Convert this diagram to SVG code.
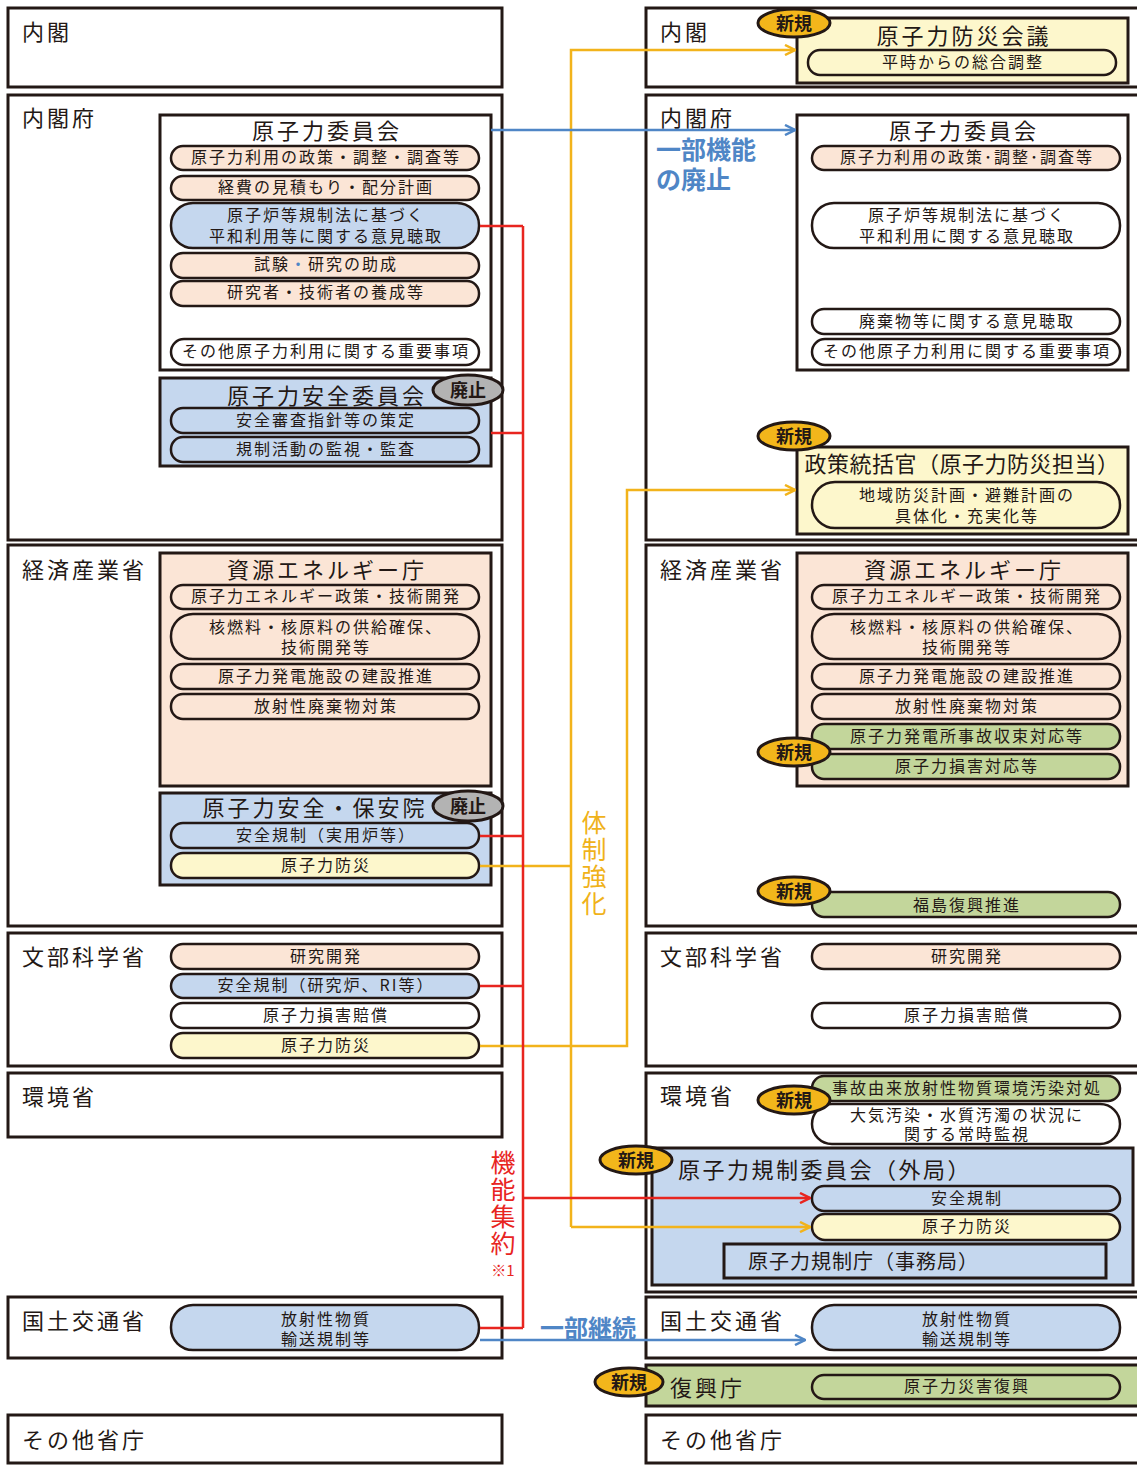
<svg xmlns="http://www.w3.org/2000/svg" width="1137" height="1465" viewBox="0 0 1137 1465">
<defs>
<style>
text{font-family:"Noto Sans CJK JP","Noto Sans CJK SC",sans-serif;fill:#231815;dominant-baseline:central;transform:translateY(-2px)}
.ob{fill:#fff;stroke:#231815;stroke-width:3}
.ib{stroke:#231815;stroke-width:3}
.p{stroke:#231815;stroke-width:2.5}
.pk{fill:#fbe5d6}.bl{fill:#c5d7ee}.yl{fill:#fdf7cc}.gr{fill:#c3d69b}.wh{fill:#fff}
.lab{font-size:22px;letter-spacing:3px}
.ttl{font-size:22px;letter-spacing:3px;text-anchor:middle}
.pt{font-size:16px;letter-spacing:2px;text-anchor:middle}
.bd ellipse{fill:#f3b61b;stroke:#231815;stroke-width:3}
.bd text{font-size:18px;font-weight:bold;text-anchor:middle}
.hs ellipse{fill:#b3b3b3;stroke:#231815;stroke-width:3}
.hs text{font-size:18px;font-weight:bold;text-anchor:middle}
.ln{fill:none;stroke-width:2.5}
.ry{stroke:#f2b31b}.rr{stroke:#e8251f}.rb{stroke:#4f86c6}
.vt{writing-mode:vertical-rl;font-size:25px;letter-spacing:2px}
</style>
<marker id="ay" viewBox="0 0 12 12" refX="11" refY="6" markerWidth="12" markerHeight="12" markerUnits="userSpaceOnUse" orient="auto"><path d="M1,1 L11,6 L1,11" fill="none" stroke="#f2b31b" stroke-width="2.5"/></marker>
<marker id="ar" viewBox="0 0 12 12" refX="11" refY="6" markerWidth="12" markerHeight="12" markerUnits="userSpaceOnUse" orient="auto"><path d="M1,1 L11,6 L1,11" fill="none" stroke="#e8251f" stroke-width="2.5"/></marker>
<marker id="ab" viewBox="0 0 12 12" refX="11" refY="6" markerWidth="12" markerHeight="12" markerUnits="userSpaceOnUse" orient="auto"><path d="M1,1 L11,6 L1,11" fill="none" stroke="#4f86c6" stroke-width="2.5"/></marker>
</defs>
<rect width="1137" height="1465" fill="#fff"/>

<!-- LEFT (before) -->
<g id="L-naikaku"><rect class="ob" x="8" y="8" width="494" height="79"/><text class="lab" x="22" y="32">内閣</text></g>

<g id="L-naikakufu">
<rect class="ob" x="8" y="95" width="494" height="445"/><text class="lab" x="22" y="118">内閣府</text>
<g id="L-genshiryoku-iinkai">
<rect class="ib wh" x="160" y="115" width="331" height="255"/>
<text class="ttl" x="327" y="131">原子力委員会</text>
<rect class="p pk" x="171" y="146" width="308" height="24" rx="12"/><text class="pt" x="326" y="158">原子力利用の政策・調整・調査等</text>
<rect class="p pk" x="171" y="176" width="308" height="24" rx="12"/><text class="pt" x="326" y="188">経費の見積もり・配分計画</text>
<rect class="p bl" x="171" y="203" width="308" height="45" rx="22"/><text class="pt"><tspan x="326" y="216">原子炉等規制法に基づく</tspan><tspan x="326" y="237">平和利用等に関する意見聴取</tspan></text>
<rect class="p pk" x="171" y="253" width="308" height="25" rx="12"/><text class="pt" x="326" y="265">試験<tspan fill="#4f86c6">・</tspan>研究の助成</text>
<rect class="p pk" x="171" y="281" width="308" height="25" rx="12"/><text class="pt" x="326" y="293">研究者・技術者の養成等</text>
<rect class="p wh" x="171" y="339" width="308" height="26" rx="13"/><text class="pt" x="326" y="352">その他原子力利用に関する重要事項</text>
</g>
<g id="L-anzen-iinkai">
<rect class="ib bl" x="160" y="378" width="331" height="88"/>
<text class="ttl" x="327" y="396">原子力安全委員会</text>
<rect class="p bl" x="171" y="408" width="308" height="25" rx="12"/><text class="pt" x="326" y="421">安全審査指針等の策定</text>
<rect class="p bl" x="171" y="437" width="308" height="25" rx="12"/><text class="pt" x="326" y="450">規制活動の監視・監査</text>
<g class="hs"><ellipse cx="468" cy="390" rx="35" ry="15"/><text x="468" y="391">廃止</text></g>
</g>
</g>

<g id="L-keisansho">
<rect class="ob" x="8" y="545" width="494" height="381"/><text class="lab" x="22" y="570">経済産業省</text>
<g id="L-shigen">
<rect class="ib pk" x="160" y="553" width="331" height="233"/>
<text class="ttl" x="327" y="570">資源エネルギー庁</text>
<rect class="p pk" x="171" y="585" width="308" height="24" rx="12"/><text class="pt" x="326" y="597">原子力エネルギー政策・技術開発</text>
<rect class="p pk" x="171" y="614" width="308" height="45" rx="22"/><text class="pt"><tspan x="326" y="628">核燃料・核原料の供給確保、</tspan><tspan x="326" y="648">技術開発等</tspan></text>
<rect class="p pk" x="171" y="664" width="308" height="25" rx="12"/><text class="pt" x="326" y="677">原子力発電施設の建設推進</text>
<rect class="p pk" x="171" y="694" width="308" height="25" rx="12"/><text class="pt" x="326" y="707">放射性廃棄物対策</text>
</g>
<g id="L-hoanin">
<rect class="ib bl" x="160" y="793" width="331" height="92"/>
<text class="ttl" x="315" y="808">原子力安全・保安院</text>
<rect class="p bl" x="171" y="823" width="308" height="25" rx="12"/><text class="pt" x="326" y="836">安全規制（実用炉等）</text>
<rect class="p yl" x="171" y="853" width="308" height="25" rx="12"/><text class="pt" x="326" y="866">原子力防災</text>
<g class="hs"><ellipse cx="468" cy="806" rx="35" ry="15"/><text x="468" y="807">廃止</text></g>
</g>
</g>

<g id="L-monkasho">
<rect class="ob" x="8" y="933" width="494" height="133"/><text class="lab" x="22" y="957">文部科学省</text>
<rect class="p pk" x="171" y="944" width="308" height="25" rx="12"/><text class="pt" x="326" y="957">研究開発</text>
<rect class="p bl" x="171" y="974" width="308" height="24" rx="12"/><text class="pt" x="326" y="986">安全規制（研究炉、RI等）</text>
<rect class="p wh" x="171" y="1003" width="308" height="25" rx="12"/><text class="pt" x="326" y="1016">原子力損害賠償</text>
<rect class="p yl" x="171" y="1033" width="308" height="25" rx="12"/><text class="pt" x="326" y="1046">原子力防災</text>
</g>

<g id="L-kankyosho"><rect class="ob" x="8" y="1073" width="494" height="64"/><text class="lab" x="22" y="1097">環境省</text></g>

<g id="L-kokudo">
<rect class="ob" x="8" y="1297" width="494" height="61"/><text class="lab" x="22" y="1321">国土交通省</text>
<rect class="p bl" x="171" y="1305" width="308" height="45" rx="22"/><text class="pt"><tspan x="326" y="1320">放射性物質</tspan><tspan x="326" y="1340">輸送規制等</tspan></text>
</g>

<g id="L-sonota"><rect class="ob" x="8" y="1415" width="494" height="48"/><text class="lab" x="22" y="1440">その他省庁</text></g>

<!-- RIGHT (after) -->
<g id="R-naikaku">
<rect class="ob" x="646" y="8" width="500" height="79"/><text class="lab" x="660" y="32">内閣</text>
<g id="R-bosai-kaigi">
<rect class="ib yl" x="797" y="18" width="331" height="65"/>
<text class="ttl" x="964" y="36">原子力防災会議</text>
<rect class="p yl" x="808" y="50" width="308" height="25" rx="12"/><text class="pt" x="963" y="63">平時からの総合調整</text>
</g>
</g>

<g id="R-naikakufu">
<rect class="ob" x="646" y="95" width="500" height="445"/><text class="lab" x="660" y="118">内閣府</text>
<text font-size="25" font-weight="bold" style="fill:#4f86c6"><tspan x="656" y="150">一部機能</tspan><tspan x="656" y="180">の廃止</tspan></text>
<g id="R-genshiryoku-iinkai">
<rect class="ib wh" x="797" y="115" width="331" height="255"/>
<text class="ttl" x="964" y="131">原子力委員会</text>
<rect class="p pk" x="812" y="146" width="308" height="24" rx="12"/><text class="pt" x="967" y="158">原子力利用の政策･調整･調査等</text>
<rect class="p wh" x="812" y="203" width="308" height="45" rx="22"/><text class="pt"><tspan x="967" y="216">原子炉等規制法に基づく</tspan><tspan x="967" y="237">平和利用に関する意見聴取</tspan></text>
<rect class="p wh" x="812" y="309" width="308" height="25" rx="12"/><text class="pt" x="967" y="322">廃棄物等に関する意見聴取</text>
<rect class="p wh" x="812" y="339" width="308" height="26" rx="13"/><text class="pt" x="967" y="352">その他原子力利用に関する重要事項</text>
</g>
<g id="R-seisaku">
<rect class="ib yl" x="797" y="447" width="331" height="87"/>
<text x="962" y="464" font-size="22" letter-spacing="0.5" text-anchor="middle">政策統括官（原子力防災担当）</text>
<rect class="p yl" x="812" y="482" width="308" height="46" rx="23"/><text class="pt"><tspan x="967" y="496">地域防災計画・避難計画の</tspan><tspan x="967" y="517">具体化・充実化等</tspan></text>
</g>
</g>

<g id="R-keisansho">
<rect class="ob" x="646" y="545" width="500" height="381"/><text class="lab" x="660" y="570">経済産業省</text>
<g id="R-shigen">
<rect class="ib pk" x="797" y="553" width="331" height="233"/>
<text class="ttl" x="964" y="570">資源エネルギー庁</text>
<rect class="p pk" x="812" y="585" width="308" height="24" rx="12"/><text class="pt" x="967" y="597">原子力エネルギー政策・技術開発</text>
<rect class="p pk" x="812" y="614" width="308" height="45" rx="22"/><text class="pt"><tspan x="967" y="628">核燃料・核原料の供給確保、</tspan><tspan x="967" y="648">技術開発等</tspan></text>
<rect class="p pk" x="812" y="664" width="308" height="25" rx="12"/><text class="pt" x="967" y="677">原子力発電施設の建設推進</text>
<rect class="p pk" x="812" y="694" width="308" height="25" rx="12"/><text class="pt" x="967" y="707">放射性廃棄物対策</text>
<rect class="p gr" x="812" y="724" width="308" height="25" rx="12"/><text class="pt" x="967" y="737">原子力発電所事故収束対応等</text>
<rect class="p gr" x="812" y="754" width="308" height="25" rx="12"/><text class="pt" x="967" y="767">原子力損害対応等</text>
</g>
<rect class="p gr" x="812" y="892" width="308" height="25" rx="12"/><text class="pt" x="967" y="906">福島復興推進</text>
</g>

<g id="R-monkasho">
<rect class="ob" x="646" y="933" width="500" height="133"/><text class="lab" x="660" y="957">文部科学省</text>
<rect class="p pk" x="812" y="944" width="308" height="25" rx="12"/><text class="pt" x="967" y="957">研究開発</text>
<rect class="p wh" x="812" y="1003" width="308" height="25" rx="12"/><text class="pt" x="967" y="1016">原子力損害賠償</text>
</g>

<g id="R-kankyosho">
<rect class="ob" x="646" y="1073" width="500" height="219"/><text class="lab" x="660" y="1096">環境省</text>
<rect class="p gr" x="812" y="1076" width="308" height="25" rx="12"/><text class="pt" x="967" y="1089">事故由来放射性物質環境汚染対処</text>
<rect class="p wh" x="812" y="1104" width="308" height="40" rx="20"/><text class="pt"><tspan x="967" y="1116">大気汚染・水質汚濁の状況に</tspan><tspan x="967" y="1135">関する常時監視</tspan></text>
<g id="R-kisei-iinkai">
<rect class="ib bl" x="652" y="1148" width="481" height="137"/>
<text x="678" y="1170" font-size="22" letter-spacing="2.5">原子力規制委員会（外局）</text>
<rect class="p bl" x="812" y="1186" width="308" height="25" rx="12"/><text class="pt" x="967" y="1199">安全規制</text>
<rect class="p yl" x="812" y="1214" width="308" height="26" rx="13"/><text class="pt" x="967" y="1227">原子力防災</text>
<rect class="ib bl" x="724" y="1244" width="382" height="34"/>
<text x="748" y="1262" font-size="20" letter-spacing="1">原子力規制庁（事務局）</text>
</g>
</g>

<g id="R-kokudo">
<rect class="ob" x="646" y="1297" width="500" height="61"/><text class="lab" x="660" y="1321">国土交通省</text>
<rect class="p bl" x="812" y="1305" width="308" height="45" rx="22"/><text class="pt"><tspan x="967" y="1320">放射性物質</tspan><tspan x="967" y="1340">輸送規制等</tspan></text>
</g>

<g id="R-fukko">
<rect class="ob" x="646" y="1365" width="500" height="41" style="fill:#c3d69b"/><text class="lab" x="670" y="1388">復興庁</text>
<rect class="p gr" x="812" y="1375" width="308" height="24" rx="12"/><text class="pt" x="967" y="1387">原子力災害復興</text>
</g>

<g id="R-sonota"><rect class="ob" x="646" y="1415" width="500" height="48"/><text class="lab" x="660" y="1440">その他省庁</text></g>

<!-- connectors -->
<g id="connectors">
<path class="ln ry" d="M480,866 H571"/>
<path class="ln ry" d="M571,1227 V50 H795" marker-end="url(#ay)"/>
<path class="ln ry" d="M571,1227 H810" marker-end="url(#ay)"/>
<path class="ln ry" d="M480,1046 H627 V490 H795" marker-end="url(#ay)"/>
<path class="ln rb" d="M491,130 H795" marker-end="url(#ab)"/>
<path class="ln rb" d="M480,1340 H805" marker-end="url(#ab)"/>
<path class="ln rr" d="M523,226 V1328"/>
<path class="ln rr" d="M480,226 H523 M491,433 H523 M480,836 H523 M480,986 H523 M480,1328 H523"/>
<path class="ln rr" d="M523,1198 H810" marker-end="url(#ar)"/>
</g>

<!-- connector labels -->
<g id="labels">
<text class="vt" x="594" y="812" style="fill:#f0b21a">体制強化</text>
<text class="vt" x="503" y="1152" style="fill:#e8251f">機能集約</text>
<text x="503" y="1271" font-size="15" text-anchor="middle" style="fill:#e8251f">※1</text>
<text x="588" y="1328" font-size="24" font-weight="bold" text-anchor="middle" style="fill:#4f86c6">一部継続</text>
</g>

<!-- new badges -->
<g id="badges">
<g class="bd"><ellipse cx="794" cy="23" rx="36" ry="14"/><text x="794" y="24">新規</text></g>
<g class="bd"><ellipse cx="794" cy="436" rx="36" ry="14"/><text x="794" y="437">新規</text></g>
<g class="bd"><ellipse cx="794" cy="752" rx="36" ry="14"/><text x="794" y="753">新規</text></g>
<g class="bd"><ellipse cx="794" cy="891" rx="36" ry="14"/><text x="794" y="892">新規</text></g>
<g class="bd"><ellipse cx="794" cy="1100" rx="36" ry="14"/><text x="794" y="1101">新規</text></g>
<g class="bd"><ellipse cx="636" cy="1160" rx="36" ry="14"/><text x="636" y="1161">新規</text></g>
<g class="bd"><ellipse cx="629" cy="1382" rx="34" ry="14"/><text x="629" y="1383">新規</text></g>
</g>
</svg>
